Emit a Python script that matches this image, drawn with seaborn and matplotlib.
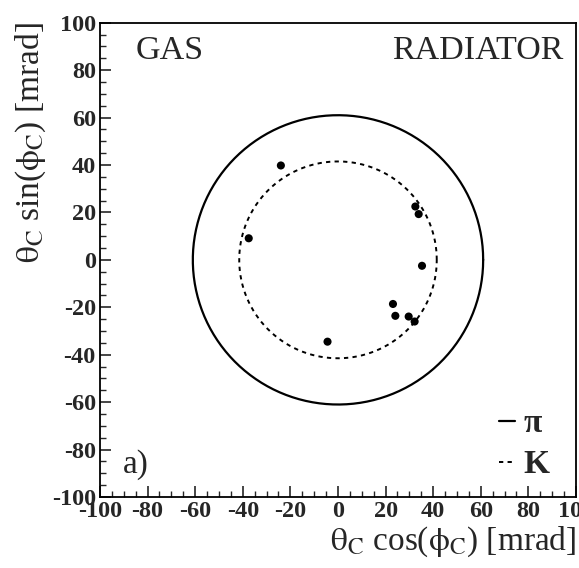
import numpy as np
import pandas as pd
import matplotlib
matplotlib.use("Agg")
import matplotlib.pyplot as plt
import seaborn as sns
from matplotlib.lines import Line2D

# measured points
x_pts = [-24.0, -37.5, 32.5, 33.9, 35.3, 23.1, 24.1, 29.7, 32.2, -4.4]
y_pts = [39.8, 9.1, 22.5, 19.3, -2.5, -18.6, -23.6, -23.9, -26.0, -34.5]
# expected ring radii
ring_labels = ["π", "K"]
ring_radii = [61.0, 41.5]
ticks = [-100, -80, -60, -40, -20, 0, 20, 40, 60, 80, 100]
tick_labels = ["-100", "-80", "-60", "-40", "-20", "0", "20", "40", "60", "80", "100"]

sns.set_style("ticks")
plt.rcParams['font.family'] = ['Liberation Serif', 'DejaVu Serif']
plt.rcParams['mathtext.fontset'] = 'stix'

fig = plt.figure(figsize=(5.79, 5.68), dpi=100)
ax = fig.add_axes([0.1727, 0.125, 0.8221, 0.835])

phi = np.linspace(0, 2 * np.pi, 400)
styles = {"π": dict(linestyle="-", linewidth=1.6), "K": dict(linestyle=(0, (2.2, 2.2)), linewidth=1.4)}
for lab, r in zip(ring_labels, ring_radii):
    df = pd.DataFrame({"x": r * np.cos(phi), "y": r * np.sin(phi)})
    sns.lineplot(data=df, x="x", y="y", sort=False, estimator=None, color="black", ax=ax, **styles[lab])

sns.scatterplot(x=x_pts, y=y_pts, color="black", s=34, edgecolor="none", ax=ax, zorder=5)

ax.set_xlim(-100, 100)
ax.set_ylim(-100, 100)
ax.set_xticks(ticks)
ax.set_yticks(ticks)
ax.set_xticklabels(tick_labels, fontweight="bold")
ax.set_yticklabels(tick_labels, fontweight="bold")
ax.xaxis.set_minor_locator(matplotlib.ticker.MultipleLocator(5))
ax.yaxis.set_minor_locator(matplotlib.ticker.MultipleLocator(5))
ax.tick_params(which="major", direction="in", length=8, width=1.2, labelsize=17.5, pad=3,
               top=False, right=False)
ax.tick_params(which="minor", direction="in", length=4, width=1.0, top=False, right=False)
for sp in ax.spines.values():
    sp.set_linewidth(1.3)
    sp.set_color("black")

ax.set_xlabel(r"$\mathrm{\theta_C}$ cos($\mathrm{\phi_C}$) [mrad]", fontsize=24, loc="right")
ax.set_ylabel(r"$\mathrm{\theta_C}$ sin($\mathrm{\phi_C}$) [mrad]", fontsize=24, loc="top")
ax.xaxis.set_label_coords(1.0, -0.058)
ax.yaxis.set_label_coords(-0.11, 1.0)

ax.text(0.075, 0.972, "GAS", transform=ax.transAxes, fontsize=24.5, va="top", ha="left")
ax.text(0.973, 0.972, "RADIATOR", transform=ax.transAxes, fontsize=24.5, va="top", ha="right")
ax.text(0.048, 0.035, "a)", transform=ax.transAxes, fontsize=24, va="bottom", ha="left")

handles = [Line2D([], [], color="black", **styles[l]) for l in ring_labels]
leg = ax.legend(handles, ring_labels, loc="lower right", frameon=False,
                prop={"size": 24, "weight": "bold"},
                handlelength=0.5, handletextpad=0.25, labelspacing=0.3,
                borderaxespad=0, borderpad=0,
                bbox_to_anchor=(0.945, 0.035))

fig.savefig("out.png", dpi=100)
